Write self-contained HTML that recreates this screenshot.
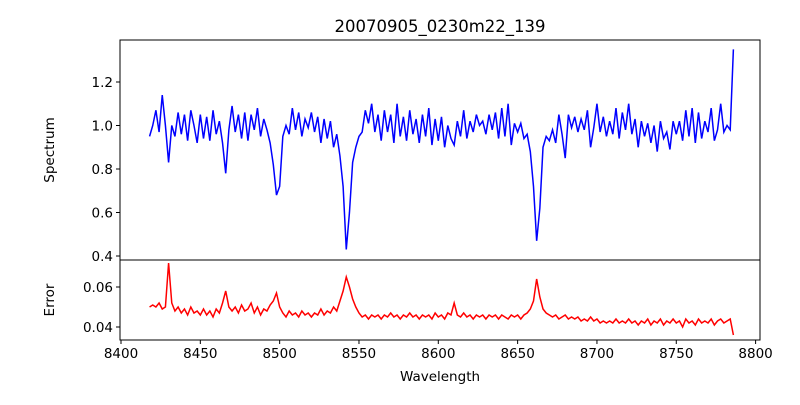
<!DOCTYPE html>
<html><head><meta charset="utf-8"><style>
body{margin:0;background:#fff}
svg text{font-family:"DejaVu Sans","Liberation Sans",sans-serif;fill:#000}
</style></head><body>
<svg id="chart" width="800" height="400" xmlns="http://www.w3.org/2000/svg">
<rect width="800" height="400" fill="#fff"/>
<text x="440" y="32" font-size="16.5" text-anchor="middle">20070905_0230m22_139</text>
<g id="marks"></g>
<g id="axes"></g>
<text transform="translate(54,150) rotate(-90)" font-size="13.5" text-anchor="middle">Spectrum</text>
<text transform="translate(54,300) rotate(-90)" font-size="13.5" text-anchor="middle">Error</text>
<text x="440" y="381" font-size="13.5" text-anchor="middle">Wavelength</text>
</svg>
<script>
const waveStart = 8418;
const waveStep = 2;
const spectrum = [0.95,1.00,1.07,0.97,1.14,1.00,0.83,1.00,0.95,1.06,0.96,1.05,0.93,1.07,1.00,0.92,1.05,0.94,1.04,0.93,1.07,0.96,1.02,0.92,0.78,0.98,1.09,0.97,1.05,0.94,1.06,0.93,1.05,0.98,1.08,0.95,1.03,0.98,0.92,0.82,0.68,0.72,0.95,1.00,0.96,1.08,0.98,1.06,0.95,1.03,0.99,1.06,0.97,1.04,0.92,1.03,0.94,1.02,0.90,0.96,0.86,0.72,0.43,0.60,0.83,0.90,0.95,0.97,1.07,1.01,1.10,0.97,1.05,0.93,1.07,0.97,1.05,0.92,1.10,0.95,1.04,0.93,1.07,0.96,1.03,0.92,1.05,0.95,1.08,0.91,1.03,0.93,1.04,0.90,1.00,0.94,0.91,1.02,0.95,1.07,0.94,1.02,0.97,1.05,1.00,1.02,0.96,1.05,0.98,1.06,0.94,1.08,0.95,1.10,0.91,1.01,0.97,1.01,0.94,0.96,0.88,0.72,0.47,0.62,0.90,0.95,0.93,0.98,0.92,1.05,0.96,0.85,1.05,0.99,1.04,0.97,1.03,0.98,1.07,0.90,0.99,1.10,0.97,1.04,0.95,1.02,0.96,1.08,0.94,1.06,0.98,1.10,0.96,1.03,0.90,1.02,0.95,1.01,0.92,1.00,0.88,1.02,0.94,0.97,0.89,1.02,0.96,1.02,0.93,1.07,0.95,1.08,0.92,1.06,0.94,1.02,0.97,1.08,0.93,0.98,1.10,0.97,1.00,0.98,1.35];
const errorVals = [.050,.051,.050,.052,.049,.050,.072,.052,.048,.050,.047,.049,.046,.050,.047,.048,.046,.049,.046,.048,.045,.049,.047,.052,.058,.050,.048,.050,.047,.051,.048,.049,.052,.047,.050,.046,.049,.048,.051,.053,.057,.050,.047,.045,.048,.046,.047,.045,.048,.046,.047,.045,.047,.046,.049,.046,.048,.047,.050,.048,.053,.058,.065,.060,.054,.050,.047,.045,.046,.044,.046,.045,.046,.044,.046,.045,.047,.045,.046,.044,.046,.045,.047,.045,.046,.044,.046,.045,.046,.044,.047,.045,.046,.044,.047,.046,.052,.046,.045,.047,.045,.046,.044,.046,.045,.046,.044,.046,.045,.046,.044,.046,.045,.044,.046,.045,.046,.044,.046,.047,.049,.053,.064,.055,.049,.047,.046,.045,.046,.044,.045,.046,.044,.045,.044,.045,.043,.044,.043,.045,.043,.044,.042,.043,.042,.043,.042,.044,.042,.043,.042,.044,.042,.043,.041,.043,.042,.044,.041,.043,.042,.044,.041,.043,.042,.044,.042,.043,.040,.044,.042,.043,.041,.044,.042,.043,.042,.044,.041,.043,.044,.042,.043,.044,.036];
const xTicks = [8400,8450,8500,8550,8600,8650,8700,8750,8800];
const specTicks = [0.4,0.6,0.8,1.0,1.2];
const errTicks = [0.04,0.06];

const L=120,R=760,T1=40,B1=260,T2=260,B2=340;
const x = w => 121 + (w-8400)*1.5865;
const y1 = v => 256 - (v-0.4)*217.5;
const y2 = v => 327 - (v-0.04)*2000;
const NS="http://www.w3.org/2000/svg";
const marks=document.getElementById('marks'), axes=document.getElementById('axes');
function mk(tag,attrs,parent){const e=document.createElementNS(NS,tag);for(const k in attrs)e.setAttribute(k,attrs[k]);parent.appendChild(e);return e;}

// clip paths
const defs=mk('defs',{},marks);
const c1=mk('clipPath',{id:'c1'},defs);mk('rect',{x:L,y:T1,width:R-L,height:B1-T1},c1);
const c2=mk('clipPath',{id:'c2'},defs);mk('rect',{x:L,y:T2,width:R-L,height:B2-T2},c2);

let d1=spectrum.map((v,i)=>(i?'L':'M')+x(waveStart+waveStep*i).toFixed(2)+','+y1(v).toFixed(2)).join('');
const p1=mk('path',{d:d1,fill:'none',stroke:'#0000ff','stroke-width':1.5,'clip-path':'url(#c1)'},marks);


let d2=errorVals.map((v,i)=>(i?'L':'M')+x(waveStart+waveStep*i).toFixed(2)+','+y2(v).toFixed(2)).join('');
const p2=mk('path',{d:d2,fill:'none',stroke:'#ff0000','stroke-width':1.5,'clip-path':'url(#c2)'},marks);



// frames
const f1=mk('rect',{x:L,y:T1,width:R-L,height:B1-T1,fill:'none',stroke:'#000','stroke-width':1},axes);


const f2=mk('rect',{x:L,y:T2,width:R-L,height:B2-T2,fill:'none',stroke:'#000','stroke-width':1},axes);



xTicks.forEach(t=>{
  const xx=x(t);
  mk('line',{x1:xx,x2:xx,y1:B2,y2:B2+4,stroke:'#000'},axes);
  const tx=mk('text',{x:xx,y:B2+18,'font-size':13.5,'text-anchor':'middle'},axes);
  tx.textContent=t;
  
  
});
specTicks.forEach(t=>{
  const yy=y1(t);
  mk('line',{x1:L-4,x2:L,y1:yy,y2:yy,stroke:'#000'},axes);
  const tx=mk('text',{x:L-7,y:yy+5,'font-size':13.5,'text-anchor':'end'},axes);
  tx.textContent=t.toFixed(1);
  
  
});
errTicks.forEach(t=>{
  const yy=y2(t);
  mk('line',{x1:L-4,x2:L,y1:yy,y2:yy,stroke:'#000'},axes);
  const tx=mk('text',{x:L-7,y:yy+5,'font-size':13.5,'text-anchor':'end'},axes);
  tx.textContent=t.toFixed(2);
  
  
});
</script>
</body></html>
